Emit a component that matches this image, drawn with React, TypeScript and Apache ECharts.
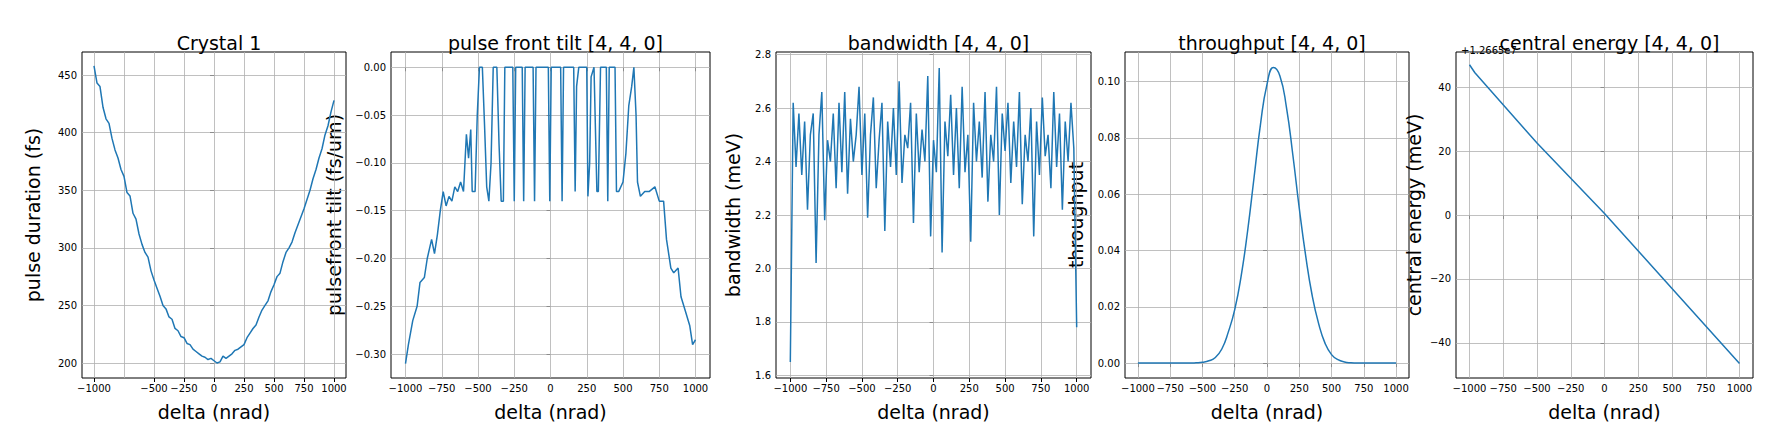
import { useEffect, useRef } from 'react';
import * as echarts from 'echarts';

// Crystal 1: pulse duration (fs)
const durationX = [-1000, -975, -950, -925, -900, -875, -850, -825, -800, -775, -750, -725, -700, -675, -650, -625, -600, -575, -550, -525, -500, -475, -450, -425, -400, -375, -350, -325, -300, -275, -250, -225, -200, -175, -150, -125, -100, -75, -50, -25, 0, 25, 50, 75, 100, 125, 150, 175, 200, 225, 250, 275, 300, 325, 350, 375, 400, 425, 450, 475, 500, 525, 550, 575, 600, 625, 650, 675, 700, 725, 750, 775, 800, 825, 850, 875, 900, 925, 950, 975, 1000];
const durationY = [458, 443, 440, 422, 412, 408, 395, 385, 378, 368, 362, 348, 345, 330, 325, 312, 303, 296, 292, 280, 272, 265, 258, 250, 247, 240, 238, 230, 228, 223, 222, 217, 216, 212, 210, 208, 206, 205, 203, 204, 202, 200, 201, 206, 204, 206, 208, 211, 212, 214, 216, 222, 226, 230, 233, 240, 246, 250, 254, 262, 268, 275, 278, 288, 296, 300, 305, 313, 320, 327, 334, 342, 350, 360, 368, 378, 386, 398, 406, 418, 428];

// pulse front tilt (fs/um)
const tiltX = [-1000, -980, -950, -920, -900, -870, -850, -820, -800, -780, -760, -740, -720, -700, -680, -660, -640, -620, -600, -580, -565, -550, -540, -520, -505, -490, -470, -455, -440, -425, -410, -395, -370, -355, -340, -325, -315, -260, -250, -240, -195, -185, -175, -120, -110, -100, -15, -5, 5, 70, 80, 90, 160, 170, 180, 195, 250, 258, 270, 280, 300, 320, 330, 345, 385, 395, 405, 445, 455, 470, 500, 520, 540, 560, 575, 590, 600, 620, 650, 680, 720, 750, 780, 800, 830, 850, 880, 900, 930, 960, 980, 1000];
const tiltY = [-0.31, -0.29, -0.265, -0.25, -0.225, -0.22, -0.2, -0.18, -0.195, -0.175, -0.15, -0.13, -0.145, -0.135, -0.14, -0.125, -0.13, -0.12, -0.13, -0.07, -0.095, -0.065, -0.13, -0.13, -0.05, 0, 0, -0.06, -0.125, -0.14, -0.1, 0, 0, -0.08, -0.14, -0.14, 0, 0, -0.14, 0, 0, -0.14, 0, 0, -0.14, 0, 0, -0.14, 0, 0, -0.14, 0, 0, -0.13, -0.02, 0, 0, -0.135, -0.1, -0.01, 0, -0.13, -0.13, 0, 0, -0.14, 0, 0, -0.13, -0.13, -0.12, -0.09, -0.04, -0.02, 0, -0.05, -0.12, -0.135, -0.13, -0.13, -0.125, -0.14, -0.14, -0.18, -0.21, -0.215, -0.21, -0.24, -0.255, -0.27, -0.29, -0.285];

// bandwidth (meV), evenly spaced from -1000 to 1000
const bandwidthY = [1.65, 2.62, 2.38, 2.58, 2.35, 2.55, 2.22, 2.5, 2.58, 2.02, 2.5, 2.66, 2.18, 2.48, 2.4, 2.58, 2.3, 2.62, 2.36, 2.66, 2.28, 2.56, 2.4, 2.5, 2.68, 2.35, 2.58, 2.19, 2.5, 2.64, 2.3, 2.48, 2.62, 2.14, 2.55, 2.38, 2.6, 2.35, 2.7, 2.32, 2.5, 2.45, 2.62, 2.17, 2.58, 2.36, 2.52, 2.4, 2.72, 2.12, 2.48, 2.36, 2.75, 2.06, 2.55, 2.42, 2.65, 2.35, 2.6, 2.3, 2.68, 2.36, 2.5, 2.1, 2.62, 2.4, 2.55, 2.34, 2.66, 2.25, 2.5, 2.4, 2.68, 2.2, 2.58, 2.44, 2.62, 2.32, 2.55, 2.38, 2.66, 2.24, 2.5, 2.4, 2.6, 2.12, 2.55, 2.35, 2.64, 2.42, 2.5, 2.3, 2.66, 2.38, 2.58, 2.22, 2.55, 2.4, 2.62, 2.45, 1.78];

// throughput, x step 50 from -1000
const throughputY = [0, 0, 0, 0, 0, 0, 0, 0, 0, 0.0001, 0.0003, 0.0008, 0.002, 0.005, 0.011, 0.019, 0.031, 0.047, 0.066, 0.085, 0.099, 0.105, 0.102, 0.091, 0.074, 0.055, 0.038, 0.024, 0.014, 0.007, 0.003, 0.0012, 0.0004, 0.0001, 0, 0, 0, 0, 0, 0, 0];

// central energy (meV, offset +1.2665e7)
const energyX = [-1000, -960, -500, 0, 500, 1000];
const energyY = [47, 44.5, 22.5, 0.5, -23, -46.5];

const xTicks = [-1000, -750, -500, -250, 0, 250, 500, 750, 1000];
const durationTicks = [200, 250, 300, 350, 400, 450];
const tiltTicks = [-0.3, -0.25, -0.2, -0.15, -0.1, -0.05, 0];
const bandwidthTicks = [1.6, 1.8, 2.0, 2.2, 2.4, 2.6, 2.8];
const throughputTicks = [0, 0.02, 0.04, 0.06, 0.08, 0.1];
const energyTicks = [-40, -20, 0, 20, 40];

const step50 = (i: number) => -1000 + i * 50;

export default function App() {
  const chartRef = useRef<HTMLDivElement>(null);

  useEffect(() => {
    if (!chartRef.current) return;
    const chart = echarts.init(chartRef.current, null, { renderer: 'svg' });
    const font = 'DejaVu Sans';
    const blue = '#1f77b4';
    const minus = (s: string) => s.replace('-', '\u2212');

    const panels = [
      { title: 'Crystal 1', yName: 'pulse duration (fs)', left: 82, width: 264, min: 187, max: 470, ticks: durationTicks, dec: 0, nameGap: 40, data: durationX.map((x, i) => [x, durationY[i]]), smooth: false },
      { title: 'pulse front tilt [4, 4, 0]', yName: 'pulsefront tilt (fs/um)', left: 391, width: 319, min: -0.325, max: 0.016, ticks: tiltTicks, dec: 2, nameGap: 48, data: tiltX.map((x, i) => [x, tiltY[i]]), smooth: false },
      { title: 'bandwidth [4, 4, 0]', yName: 'bandwidth (meV)', left: 776, width: 315, min: 1.59, max: 2.81, ticks: bandwidthTicks, dec: 1, nameGap: 34, data: bandwidthY.map((y, i) => [-1000 + (i * 2000) / (bandwidthY.length - 1), y]), smooth: false },
      { title: 'throughput [4, 4, 0]', yName: 'throughput', left: 1125, width: 284, min: -0.0053, max: 0.1105, ticks: throughputTicks, dec: 2, nameGap: 40, data: throughputY.map((y, i) => [step50(i), y]), smooth: true },
      { title: 'central energy [4, 4, 0]', yName: 'central energy (meV)', left: 1456, width: 297, min: -51, max: 51, ticks: energyTicks, dec: 0, nameGap: 33, data: energyX.map((x, i) => [x, energyY[i]]), smooth: false },
    ];
    const top = 52;
    const height = 326;

    const option: any = {
      animation: false,
      textStyle: { fontFamily: font },
      title: panels.map((p) => ({
        text: p.title,
        left: p.left + p.width / 2,
        top: 28,
        textAlign: 'center',
        textStyle: { fontFamily: font, fontSize: 19, fontWeight: 'normal', color: '#000' },
      })).concat([{
        text: '+1.2665e7',
        left: 1456,
        top: 40,
        textAlign: 'left',
        textStyle: { fontFamily: font, fontSize: 10, fontWeight: 'normal', color: '#000' },
      } as any]),
      grid: panels.map((p) => ({
        left: p.left, top, width: p.width, height,
        show: true, borderColor: '#000', borderWidth: 1, backgroundColor: '#fff',
      })),
      xAxis: panels.map((_, i) => ({
        type: 'value', gridIndex: i, min: -1100, max: 1100,
        name: 'delta (nrad)', nameLocation: 'middle', nameGap: 24,
        nameTextStyle: { fontFamily: font, fontSize: 19, color: '#000' },
        axisLine: { show: false },
        splitLine: { show: false },
        axisTick: { show: true, length: 4, customValues: xTicks, lineStyle: { color: '#000' } },
        axisLabel: { customValues: xTicks, fontSize: 10, color: '#000', margin: 5, hideOverlap: false, showMinLabel: true, showMaxLabel: true, formatter: (v: number) => minus(String(v)) },
      })),
      yAxis: panels.map((p, i) => ({
        type: 'value', gridIndex: i, min: p.min, max: p.max,
        name: p.yName, nameLocation: 'middle', nameGap: p.nameGap, nameRotate: 90,
        nameTextStyle: { fontFamily: font, fontSize: 19, color: '#000' },
        axisLine: { show: false },
        splitLine: { show: false },
        axisTick: { show: true, length: 4, customValues: p.ticks, lineStyle: { color: '#000' } },
        axisLabel: { customValues: p.ticks, fontSize: 10, color: '#000', margin: 5, formatter: (v: number) => minus(v.toFixed(p.dec)) },
      })),
      series: panels.map((p, i) => ({
        type: 'line', xAxisIndex: i, yAxisIndex: i, data: p.data,
        showSymbol: false, smooth: p.smooth, z: 3,
        lineStyle: { color: blue, width: 1.5 },
        itemStyle: { color: blue },
        markLine: {
          silent: true, symbol: 'none', z: 1, label: { show: false },
          lineStyle: { color: '#b0b0b0', width: 0.8, type: 'solid' },
          data: xTicks.map((v) => ({ xAxis: v })).concat(p.ticks.map((v) => ({ yAxis: v })) as any),
        },
      })),
    };
    chart.setOption(option);
    return () => chart.dispose();
  }, []);

  return <div ref={chartRef} style={{ position: 'fixed', left: 0, top: 0, width: 1781, height: 432, background: '#fff' }} />;
}
